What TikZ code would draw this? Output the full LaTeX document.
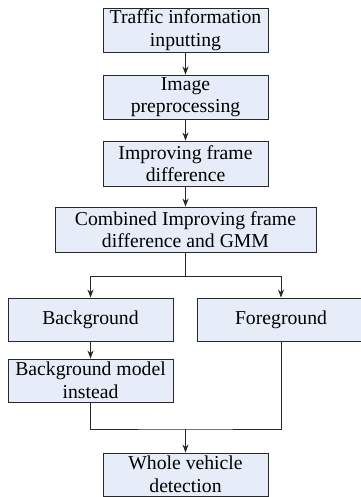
\documentclass[tikz,border=0pt]{standalone}
\usepackage{fontspec}
\setmainfont{Liberation Serif}
\usetikzlibrary{arrows.meta}
\definecolor{boxfill}{RGB}{230,237,248}
\definecolor{boxline}{RGB}{40,40,40}
\tikzset{
  stage/.style={draw=boxline, fill=boxfill, line width=0.9pt, inner sep=0pt,
    minimum width=165pt, minimum height=44pt, align=center,
    font=\fontsize{19.7}{22.5}\selectfont},
  flow/.style={draw=boxline, line width=0.9pt},
  arrow/.style={flow, -{Stealth[length=8pt,width=6pt]}}
}
\begin{document}
\begin{tikzpicture}[x=1pt,y=-1pt]
    \useasboundingbox (0,0) rectangle (360,497);
    % Boxes
    \node[stage] (traffic) at (185.5,30) {Traffic information\\inputting};
    \node[stage] (image) at (185.5,97) {Image\\preprocessing};
    \node[stage, minimum height=45pt] (improve) at (185.5,163.5) {Improving frame\\difference};
    \node[stage, minimum width=261pt, minimum height=45pt] (combine) at (185.5,229.5) {Combined Improving frame\\difference and GMM};
    \node[stage, minimum height=43pt] (back) at (90.5,319.5) {Background};
    \node[stage, minimum width=168pt, minimum height=43pt] (fore) at (281,319.5) {Foreground};
    \node[stage, minimum height=43pt] (model) at (90.5,380.5) {Background model\\instead};
    \node[stage, minimum height=43pt] (whole) at (185.5,474.5) {Whole vehicle\\detection};
    % Junctions
    \coordinate (split) at (185.5,276);
    \coordinate (merge) at (185.5,429);
    % Arrows
    \draw[arrow] (traffic) -- (image);
    \draw[arrow] (image) -- (improve);
    \draw[arrow] (improve) -- (combine);
    \draw[flow] (combine) -- (split);
    \draw[arrow] (split) -| (back.north);
    \draw[arrow] (split) -| (fore.north);
    \draw[arrow] (back) -- (model);
    \draw[flow] (model.south) |- (merge) -| (fore.south);
    \draw[arrow] (merge) -- (whole);
\end{tikzpicture}
\end{document}
